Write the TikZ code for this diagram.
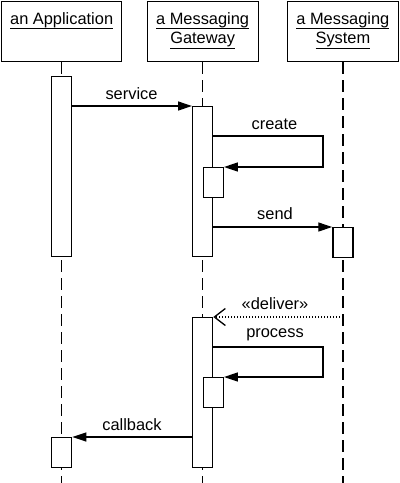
\documentclass[tikz,border=0pt]{standalone}
\usepackage{fontspec}
\setmainfont{Liberation Sans}
\usetikzlibrary{arrows.meta}
\newcommand{\objname}[1]{{\setbox0\hbox{#1}\dp0=0.8pt\underline{\box0}}}

\begin{document}
\begin{tikzpicture}[x=0.5pt, y=-0.5pt, line width=0.65pt,
    font=\fontsize{8.2}{9.75}\selectfont,
    obj/.style={draw, minimum width=60pt, minimum height=30pt, anchor=north west, inner sep=0pt},
    bar/.style={draw, fill=white, minimum width=10pt, anchor=north, inner sep=0pt},
    life/.style={dash pattern=on 6pt off 3pt},
    msg/.style={-{Triangle[length=7pt,width=4.5pt]}},
    reply/.style={dash pattern=on 0.5pt off 1pt, -{Straight Barb[length=5.5pt,width=8.5pt]}},
    txt/.style={anchor=base, inner sep=0pt}]
    \useasboundingbox (0,0) rectangle (400,483);

    \node[obj] (app) at (1,1) {};
    \node[obj, minimum width=55.5pt] (gw) at (146.5,1) {};
    \node[obj, minimum width=55.75pt] (sys) at (286.5,1) {};

    \node[txt] (appT) at (app.south |- 0,24) {\objname{an Application}};
    \node[txt] (gwT1) at (gw.south |- 0,24) {\objname{a Messaging}};
    \node[txt] (gwT2) at (gw.south |- 0,43.5) {\objname{Gateway}};
    \node[txt] (sysT1) at (sys.south |- 0,24) {\objname{a Messaging}};
    \node[txt] (sysT2) at (sys.south |- 0,43.5) {\objname{System}};

    \draw[life] (app.south) -- (app.south |- 0,483);
    \draw[life] (gw.south) -- (gw.south |- 0,483);
    \draw[life] (sys.south) -- (sys.south |- 0,483);

    \node[bar, minimum height=90pt] (appA) at (app.south |- 0,76) {};
    \node[bar, minimum height=75pt] (gwA) at (gw.south |- 0,106) {};
    \node[bar, anchor=north west, minimum height=15pt] (gwB) at (gw.south |- 0,167) {};
    \node[bar, minimum height=15pt] (sysA) at (sys.south |- 0,227) {};
    \node[bar, minimum height=75pt] (gwC) at (gw.south |- 0,317) {};
    \node[bar, anchor=north west, minimum height=15pt] (gwD) at (gw.south |- 0,377) {};
    \node[bar, minimum height=15pt] (appB) at (app.south |- 0,437) {};

    \draw[msg] (appA.east |- gwA.north) -- (gwA.north west);
    \draw[msg] (gwA.east |- 0,136) -| (323,167) -- (gwB.north east);
    \draw[msg] (gwA.east |- sysA.north) -- (sysA.north west);
    \draw[reply] (sys.south |- gwC.north) -- (gwC.north east);
    \draw[msg] (gwC.east |- 0,347) -| (323,377) -- (gwD.north east);
    \draw[msg] (gwC.west |- appB.north) -- (appB.north east);

    \node[txt] (serviceL) at (131.5,99) {service};
    \node[txt] (createL) at (274.5,129) {create};
    \node[txt] (sendL) at (275,219) {send};
    \node[txt] (deliverL) at (275,309) {«deliver»};
    \node[txt] (processL) at (275,337) {process};
    \node[txt] (callbackL) at (132,430) {callback};
\end{tikzpicture}
\end{document}
